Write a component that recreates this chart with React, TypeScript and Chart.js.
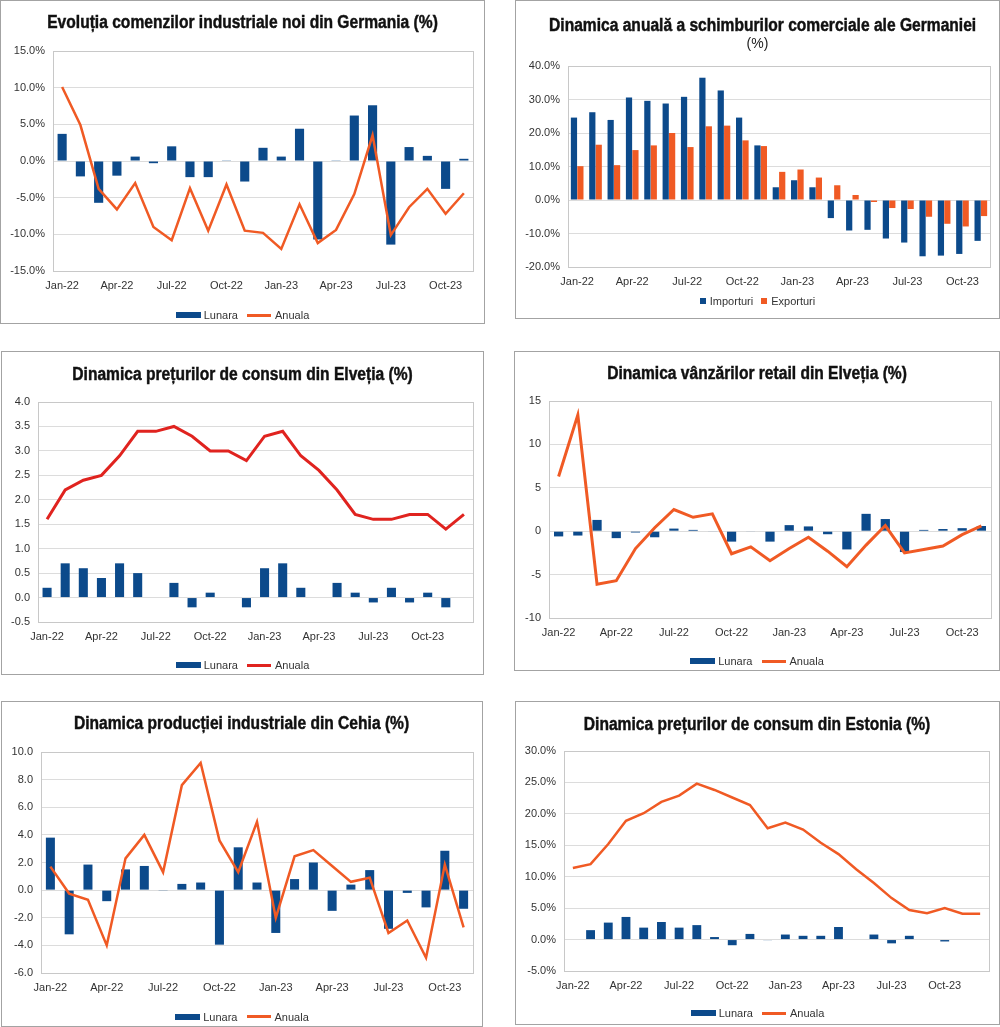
import React, { useEffect, useRef } from 'react';
import { Chart, registerables } from 'chart.js';

Chart.register(...registerables);

// ---------- categories ----------
const months23 = ['Jan-22', 'Feb-22', 'Mar-22', 'Apr-22', 'May-22', 'Jun-22', 'Jul-22', 'Aug-22', 'Sep-22', 'Oct-22', 'Nov-22', 'Dec-22', 'Jan-23', 'Feb-23', 'Mar-23', 'Apr-23', 'May-23', 'Jun-23', 'Jul-23', 'Aug-23', 'Sep-23', 'Oct-23', 'Nov-23'];
const months24 = ['Jan-22', 'Feb-22', 'Mar-22', 'Apr-22', 'May-22', 'Jun-22', 'Jul-22', 'Aug-22', 'Sep-22', 'Oct-22', 'Nov-22', 'Dec-22', 'Jan-23', 'Feb-23', 'Mar-23', 'Apr-23', 'May-23', 'Jun-23', 'Jul-23', 'Aug-23', 'Sep-23', 'Oct-23', 'Nov-23', 'Dec-23'];

// ---------- series ----------
const deOrdersLunara = [3.7, -2.1, -5.7, -2.0, 0.6, -0.3, 2.0, -2.2, -2.2, 0.1, -2.8, 1.8, 0.6, 4.4, -10.7, 0.1, 6.2, 7.6, -11.4, 1.9, 0.7, -3.8, 0.3];
const deOrdersAnuala = [10.1, 4.9, -3.8, -6.6, -3.0, -9.0, -10.8, -3.7, -9.5, -3.2, -9.5, -9.8, -12.0, -5.9, -11.2, -9.4, -4.5, 3.5, -10.1, -6.3, -3.8, -7.2, -4.4];

const deImporturi = [24.6, 26.2, 23.9, 30.6, 29.6, 28.8, 30.8, 36.5, 32.7, 24.6, 16.3, 3.8, 5.9, 3.8, -5.4, -9.1, -8.9, -11.5, -12.7, -16.8, -16.6, -16.1, -12.2];
const deExporturi = [10.1, 16.5, 10.4, 14.9, 16.3, 20.0, 15.8, 22.0, 22.2, 17.8, 16.1, 8.4, 9.1, 6.7, 4.4, 1.5, -0.6, -2.4, -2.7, -5.0, -7.1, -7.9, -4.8];

const chCpiLunara = [0.2, 0.7, 0.6, 0.4, 0.7, 0.5, 0.0, 0.3, -0.2, 0.1, 0.0, -0.2, 0.6, 0.7, 0.2, 0.0, 0.3, 0.1, -0.1, 0.2, -0.1, 0.1, -0.2, 0.0];
const chCpiAnuala = [1.6, 2.2, 2.4, 2.5, 2.9, 3.4, 3.4, 3.5, 3.3, 3.0, 3.0, 2.8, 3.3, 3.4, 2.9, 2.6, 2.2, 1.7, 1.6, 1.6, 1.7, 1.7, 1.4, 1.7];

const chRetailLunara = [-0.6, -0.5, 1.3, -0.8, -0.15, -0.7, 0.3, 0.15, -0.05, -1.2, -0.05, -1.2, 0.7, 0.55, -0.35, -2.1, 2.0, 1.4, -2.4, 0.15, 0.25, 0.35, 0.6];
const chRetailAnuala = [6.3, 13.4, -6.1, -5.7, -2.0, 0.4, 2.5, 1.6, 2.0, -2.6, -1.8, -3.4, -2.0, -0.7, -2.3, -4.1, -1.6, 0.65, -2.5, -2.1, -1.7, -0.4, 0.6];

const czIndLunara = [3.8, -3.2, 1.85, -0.8, 1.5, 1.75, -0.05, 0.45, 0.55, -3.95, 3.1, 0.55, -3.1, 0.8, 2.0, -1.5, 0.4, 1.45, -2.8, -0.2, -1.25, 2.85, -1.35];
const czIndAnuala = [1.7, -0.25, -0.7, -4.0, 2.3, 4.0, 1.3, 7.6, 9.2, 3.6, 1.3, 4.95, -2.0, 2.45, 2.9, 1.75, 0.6, 0.9, -3.1, -2.2, -4.9, 1.85, -2.7];

const eeCpiLunara = [null, 1.5, 2.7, 3.6, 1.9, 2.8, 1.9, 2.3, 0.4, -0.9, 0.9, -0.1, 0.8, 0.6, 0.6, 2.0, null, 0.8, -0.6, 0.6, null, -0.3, null, null];
const eeCpiAnuala = [11.4, 12.0, 15.2, 18.9, 20.1, 21.9, 22.9, 24.8, 23.8, 22.6, 21.4, 17.7, 18.6, 17.5, 15.4, 13.6, 11.2, 9.0, 6.6, 4.7, 4.2, 5.0, 4.1, 4.1];

// ---------- styles ----------
const FONT = "'Liberation Sans', Arial, Helvetica, sans-serif";
const TEXT = '#333333';
const BLUE = '#0c4a8b';
const ORANGE = '#f05a24';
const RED = '#e0231f';
const GRID = '#dcdcdc';
const FRAME = '#c8c8c8';
const BORDER = '#a3a3a3';
const TITLE_SCALE = 0.866;

type Series = { kind: 'bar' | 'line'; label: string; data: (number | null)[]; color: string; width?: number };

interface PanelSpec {
  box: { x: number; y: number; w: number; h: number };
  area: { l: number; t: number; r: number; b: number };
  title: string;
  subtitle?: string;
  titleY: number;
  subtitleY?: number;
  legendY: number;
  labels: string[];
  series: Series[];
  yMin: number;
  yMax: number;
  yStep: number;
  decimals: number;
  pct: boolean;
  legendStyle: 'wide' | 'square';
  barPct: number;
  catPct: number;
}

const framePlugin = {
  id: 'frame',
  beforeDatasetsDraw(chart: any) {
    const { ctx, chartArea: a } = chart;
    ctx.save();
    ctx.strokeStyle = FRAME;
    ctx.lineWidth = 1;
    ctx.strokeRect(Math.round(a.left) + 0.5, Math.round(a.top) + 0.5, Math.round(a.right - a.left), Math.round(a.bottom - a.top));
    ctx.restore();
  },
};

function Panel({ spec }: { spec: PanelSpec }) {
  const ref = useRef<HTMLCanvasElement>(null);
  const { box, area } = spec;
  const cw = box.w - 2;
  const ch = box.h - 2;
  const ox = box.x + 1;
  const oy = box.y + 1;

  useEffect(() => {
    const yW = Math.round(area.l - ox);
    const padR = Math.round(ox + cw - area.r);
    const padT = Math.round(area.t - oy);
    const xH = Math.round(oy + ch - area.b);
    const datasets = spec.series.map((s) =>
      s.kind === 'bar'
        ? {
            type: 'bar' as const,
            label: s.label,
            data: s.data,
            backgroundColor: s.color,
            borderWidth: 0,
            barPercentage: spec.barPct,
            categoryPercentage: spec.catPct,
            order: 2,
          }
        : {
            type: 'line' as const,
            label: s.label,
            data: s.data,
            borderColor: s.color,
            backgroundColor: s.color,
            borderWidth: s.width || 2.5,
            pointRadius: 0,
            tension: 0,
            fill: false,
            order: 1,
          }
    );
    const chart = new Chart(ref.current as HTMLCanvasElement, {
      type: 'bar',
      data: { labels: spec.labels, datasets: datasets as any },
      options: {
        animation: false,
        responsive: false,
        maintainAspectRatio: false,
        layout: { padding: { left: 0, right: padR, top: padT, bottom: 0 } },
        plugins: { legend: { display: false }, title: { display: false }, tooltip: { enabled: false } },
        scales: {
          x: {
            offset: true,
            grid: { display: false, drawTicks: false },
            border: { display: false },
            ticks: {
              autoSkip: false,
              maxRotation: 0,
              minRotation: 0,
              padding: 8,
              color: TEXT,
              font: { family: FONT, size: 11 },
              callback: (_v: any, i: number) => (i % 3 === 0 ? spec.labels[i] : ''),
            },
            afterFit: (s: any) => {
              s.height = xH;
            },
          },
          y: {
            min: spec.yMin,
            max: spec.yMax,
            grid: { color: GRID, drawTicks: false },
            border: { display: false },
            ticks: {
              stepSize: spec.yStep,
              padding: 8,
              color: TEXT,
              font: { family: FONT, size: 11 },
              callback: (v: any) => {
                let n = Number(v);
                if (Math.abs(n) < 1e-9) n = 0;
                return n.toFixed(spec.decimals) + (spec.pct ? '%' : '');
              },
            },
            afterFit: (s: any) => {
              s.width = yW;
            },
          },
        },
      } as any,
      plugins: [framePlugin],
    });
    return () => chart.destroy();
  }, []);

  const marker = (s: Series) => {
    if (spec.legendStyle === 'square') return { width: 6, height: 6, background: s.color };
    if (s.kind === 'bar') return { width: 25, height: 6, background: s.color };
    return { width: 24, height: 3, background: s.color };
  };

  return (
    <div
      style={{
        position: 'absolute',
        left: box.x,
        top: box.y,
        width: box.w,
        height: box.h,
        boxSizing: 'border-box',
        border: `1px solid ${BORDER}`,
        background: '#fff',
        overflow: 'hidden',
      }}
    >
      <canvas ref={ref} width={cw} height={ch} style={{ position: 'absolute', left: 0, top: 0, display: 'block' }} />
      <div
        style={{
          position: 'absolute',
          left: 0,
          width: '100%',
          top: spec.titleY - oy - 12,
          height: 24,
          lineHeight: '24px',
          textAlign: 'center',
          whiteSpace: 'nowrap',
        }}
      >
        <span
          style={{
            display: 'inline-block',
            fontFamily: FONT,
            fontWeight: 700,
            fontSize: 18,
            color: '#111',
            WebkitTextStroke: '0.45px #111',
            transform: `scaleX(${TITLE_SCALE})`,
            transformOrigin: 'center',
          }}
        >
          {spec.title}
        </span>
      </div>
      {spec.subtitle && spec.subtitleY !== undefined && (
        <div
          style={{
            position: 'absolute',
            left: 0,
            width: '100%',
            top: spec.subtitleY - oy - 9,
            height: 18,
            lineHeight: '18px',
            textAlign: 'center',
            fontFamily: FONT,
            fontSize: 14,
            color: '#222',
          }}
        >
          {spec.subtitle}
        </div>
      )}
      <div
        style={{
          position: 'absolute',
          left: 0,
          width: '100%',
          top: spec.legendY - oy - 7,
          height: 14,
          display: 'flex',
          justifyContent: 'center',
          alignItems: 'center',
          fontFamily: FONT,
          fontSize: 11,
          color: TEXT,
          whiteSpace: 'nowrap',
        }}
      >
        {spec.series.map((s, i) => (
          <span key={s.label} style={{ display: 'flex', alignItems: 'center', marginLeft: i ? (spec.legendStyle === 'square' ? 8 : 9) : 0 }}>
            <span style={{ display: 'inline-block', ...marker(s) }} />
            <span style={{ marginLeft: spec.legendStyle === 'square' ? 4 : s.kind === 'bar' ? 3 : 4 }}>{s.label}</span>
          </span>
        ))}
      </div>
    </div>
  );
}

const panels: PanelSpec[] = [
  {
    box: { x: 0, y: 0, w: 485, h: 324 },
    area: { l: 53.3, t: 50.7, r: 473.3, b: 271 },
    title: 'Evoluția comenzilor industriale noi din Germania (%)',
    titleY: 21.5,
    legendY: 315,
    labels: months23,
    series: [
      { kind: 'bar', label: 'Lunara', data: deOrdersLunara, color: BLUE },
      { kind: 'line', label: 'Anuala', data: deOrdersAnuala, color: ORANGE, width: 2.5 },
    ],
    yMin: -15, yMax: 15, yStep: 5, decimals: 1, pct: true,
    legendStyle: 'wide', barPct: 0.5, catPct: 1,
  },
  {
    box: { x: 515, y: 0, w: 485, h: 319 },
    area: { l: 568.3, t: 65.7, r: 990, b: 267.3 },
    title: 'Dinamica anuală a schimburilor comerciale ale Germaniei',
    subtitle: '(%)',
    titleY: 25,
    subtitleY: 43.3,
    legendY: 301,
    labels: months23,
    series: [
      { kind: 'bar', label: 'Importuri', data: deImporturi, color: BLUE },
      { kind: 'bar', label: 'Exporturi', data: deExporturi, color: ORANGE },
    ],
    yMin: -20, yMax: 40, yStep: 10, decimals: 1, pct: true,
    legendStyle: 'square', barPct: 0.97, catPct: 0.7,
  },
  {
    box: { x: 1, y: 351, w: 483, h: 324 },
    area: { l: 38.3, t: 401.7, r: 473.3, b: 621.7 },
    title: 'Dinamica prețurilor de consum din Elveția (%)',
    titleY: 374.3,
    legendY: 665,
    labels: months24,
    series: [
      { kind: 'bar', label: 'Lunara', data: chCpiLunara, color: BLUE },
      { kind: 'line', label: 'Anuala', data: chCpiAnuala, color: RED, width: 3 },
    ],
    yMin: -0.5, yMax: 4, yStep: 0.5, decimals: 1, pct: false,
    legendStyle: 'wide', barPct: 0.5, catPct: 1,
  },
  {
    box: { x: 514, y: 351, w: 486, h: 320 },
    area: { l: 549, t: 401, r: 990.7, b: 618.3 },
    title: 'Dinamica vânzărilor retail din Elveția (%)',
    titleY: 373.3,
    legendY: 661,
    labels: months23,
    series: [
      { kind: 'bar', label: 'Lunara', data: chRetailLunara, color: BLUE },
      { kind: 'line', label: 'Anuala', data: chRetailAnuala, color: ORANGE, width: 3 },
    ],
    yMin: -10, yMax: 15, yStep: 5, decimals: 0, pct: false,
    legendStyle: 'wide', barPct: 0.48, catPct: 1,
  },
  {
    box: { x: 1, y: 701, w: 482, h: 326 },
    area: { l: 41, t: 752.3, r: 472.7, b: 973.3 },
    title: 'Dinamica producției industriale din Cehia (%)',
    titleY: 723.3,
    legendY: 1016.7,
    labels: months23,
    series: [
      { kind: 'bar', label: 'Lunara', data: czIndLunara, color: BLUE },
      { kind: 'line', label: 'Anuala', data: czIndAnuala, color: ORANGE, width: 2.5 },
    ],
    yMin: -6, yMax: 10, yStep: 2, decimals: 1, pct: false,
    legendStyle: 'wide', barPct: 0.48, catPct: 1,
  },
  {
    box: { x: 515, y: 701, w: 485, h: 324 },
    area: { l: 564, t: 751, r: 989.3, b: 971 },
    title: 'Dinamica prețurilor de consum din Estonia (%)',
    titleY: 724.3,
    legendY: 1013.3,
    labels: months24,
    series: [
      { kind: 'bar', label: 'Lunara', data: eeCpiLunara, color: BLUE },
      { kind: 'line', label: 'Anuala', data: eeCpiAnuala, color: ORANGE, width: 2.5 },
    ],
    yMin: -5, yMax: 30, yStep: 5, decimals: 1, pct: true,
    legendStyle: 'wide', barPct: 0.5, catPct: 1,
  },
];

export default function App() {
  return (
    <div style={{ position: 'absolute', left: 0, top: 0, width: 1000, height: 1027, background: '#fff', overflow: 'hidden' }}>
      {panels.map((p, i) => (
        <Panel key={i} spec={p} />
      ))}
    </div>
  );
}
